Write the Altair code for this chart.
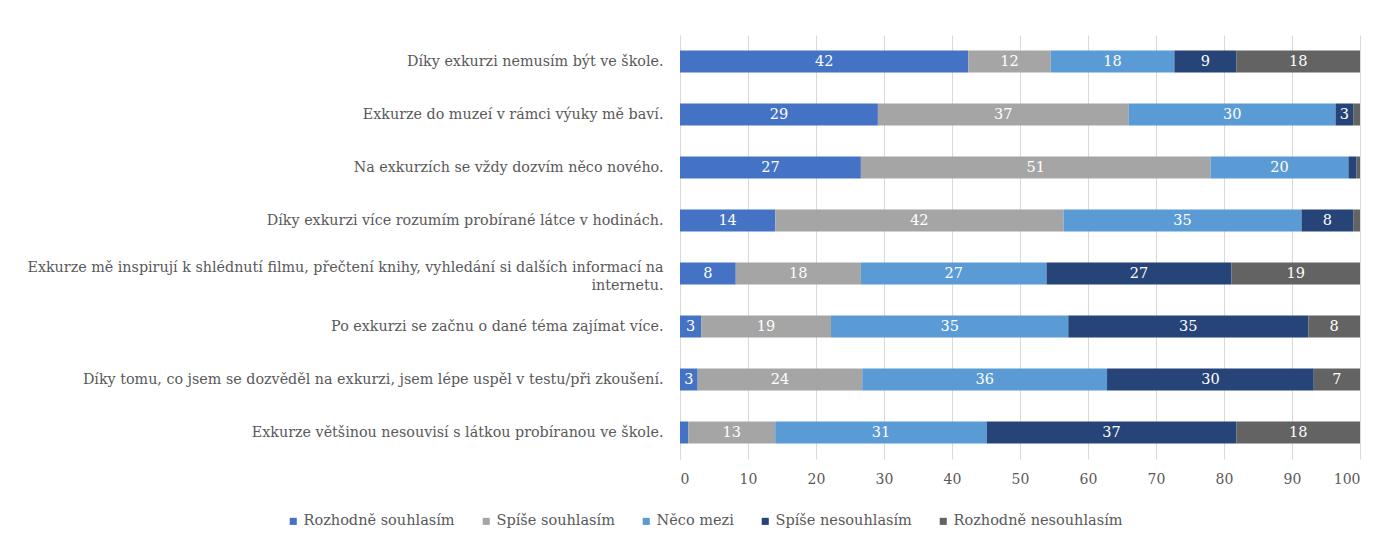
import altair as alt
import pandas as pd

statements = [
    "Díky exkurzi nemusím být ve škole.",
    "Exkurze do muzeí v rámci výuky mě baví.",
    "Na exkurzích se vždy dozvím něco nového.",
    "Díky exkurzi více rozumím probírané látce v hodinách.",
    "Exkurze mě inspirují k shlédnutí filmu, přečtení knihy, vyhledání si dalších informací na internetu.",
    "Po exkurzi se začnu o dané téma zajímat více.",
    "Díky tomu, co jsem se dozvěděl na exkurzi, jsem lépe uspěl v testu/při zkoušení.",
    "Exkurze většinou nesouvisí s látkou probíranou ve škole.",
]
categories = ["Rozhodně souhlasím", "Spíše souhlasím", "Něco mezi",
              "Spíše nesouhlasím", "Rozhodně nesouhlasím"]
colors = ["#4472C4", "#A5A5A5", "#5B9BD5", "#264478", "#636363"]

rozhodne_souhlasim = [42.4, 29.1, 26.6, 14.0, 8.2, 3.1, 2.6, 1.2]
spise_souhlasim = [12.1, 36.9, 51.4, 42.4, 18.4, 19.1, 24.2, 12.8]
neco_mezi = [18.2, 30.4, 20.3, 35.0, 27.3, 34.9, 36.0, 31.1]
spise_nesouhlasim = [9.1, 2.6, 1.2, 7.6, 27.2, 35.3, 30.4, 36.7]
rozhodne_nesouhlasim = [18.2, 1.0, 0.5, 1.0, 18.9, 7.6, 6.8, 18.2]

series = [rozhodne_souhlasim, spise_souhlasim, neco_mezi,
          spise_nesouhlasim, rozhodne_nesouhlasim]

rows = []
for ci, (cat, vals) in enumerate(zip(categories, series)):
    for s, v in zip(statements, vals):
        rows.append({"statement": s, "category": cat, "value": v, "order": ci})
df = pd.DataFrame(rows)

FONT = "DejaVu Serif"

long_label = statements[4]
label_expr = (
    "datum.value == '" + long_label + "' ? "
    "['Exkurze mě inspirují k shlédnutí filmu, přečtení knihy, vyhledání si dalších informací na', 'internetu.']"
    " : datum.label"
)

y_enc = alt.Y(
    "statement:N",
    sort=statements,
    title=None,
    scale=alt.Scale(paddingInner=0.585, paddingOuter=0.2925),
    axis=alt.Axis(
        labelExpr=label_expr,
        labelLimit=800,
        labelFontSize=14.3,
        labelFont=FONT,
        labelColor="#595959",
        labelPadding=17,
        labelLineHeight=18,
        labelOffset={"condition": {"test": "datum.value == '" + long_label + "'", "value": -6}, "value": 0},
        ticks=False,
        domain=True,
        domainColor="#D9D9D9",
        grid=False,
    ),
)

base = alt.Chart(df).transform_stack(
    stack="value",
    groupby=["statement"],
    as_=["x0", "x1"],
    sort=[alt.SortField("order", order="ascending")],
).transform_calculate(
    mid="(datum.x0 + datum.x1) / 2"
)

bars = base.mark_bar().encode(
    y=y_enc,
    x=alt.X(
        "x0:Q",
        scale=alt.Scale(domain=[0, 100], nice=False),
        title=None,
        axis=alt.Axis(
            values=list(range(0, 101, 10)),
            labelFontSize=14,
            labelFont=FONT,
            labelColor="#595959",
            labelPadding=13,
            ticks=False,
            domain=False,
            grid=True,
            gridColor="#D9D9D9",
            gridWidth=1,
        ),
    ),
    x2="x1:Q",
    color=alt.Color(
        "category:N",
        sort=categories,
        scale=alt.Scale(domain=categories, range=colors),
        title=None,
        legend=alt.Legend(
            orient="none",
            legendX=-394,
            legendY=479,
            direction="horizontal",
            columns=5,
            symbolType="square",
            symbolSize=50,
            symbolStrokeWidth=0,
            labelFontSize=14.5,
            labelFont=FONT,
            labelColor="#595959",
            labelLimit=400,
            columnPadding=24,
            labelOffset=3,
        ),
    ),
    order=alt.Order("order:Q"),
)

labels = base.transform_filter("datum.value >= 2").mark_text(
    color="white", fontSize=14.5, font=FONT, baseline="middle", align="center"
).encode(
    y=alt.Y("statement:N", sort=statements),
    x=alt.X("mid:Q"),
    text=alt.Text("value:Q", format=".0f"),
)

chart = alt.layer(bars, labels).properties(
    width=680,
    height=424,
    autosize=alt.AutoSizeParams(type="none"),
    padding={"left": 680, "top": 35, "right": 27, "bottom": 83},
).configure_view(stroke=None)

chart.save("out.html", embed_options={"renderer": "svg", "actions": False})
